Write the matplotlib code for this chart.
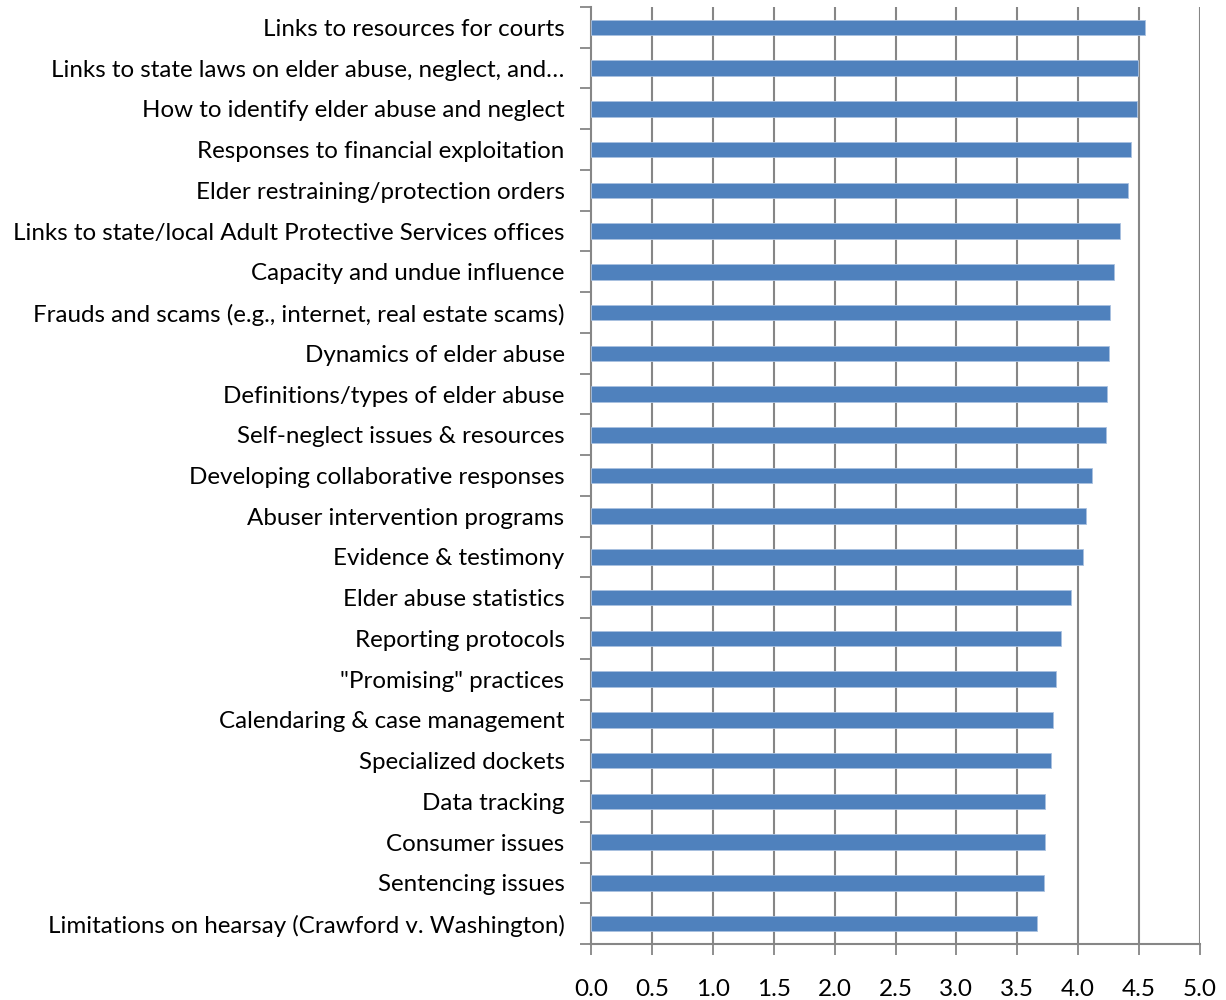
import numpy as np
import matplotlib.pyplot as plt

# topics, listed top to bottom
topics = [
    "Links to resources for courts",
    "Links to state laws on elder abuse, neglect, and\u2026",
    "How to identify elder abuse and neglect",
    "Responses to financial exploitation",
    "Elder restraining/protection orders",
    "Links to state/local Adult Protective Services offices",
    "Capacity and undue influence",
    "Frauds and scams (e.g., internet, real estate scams)",
    "Dynamics of elder abuse",
    "Definitions/types of elder abuse",
    "Self-neglect issues & resources",
    "Developing collaborative responses",
    "Abuser intervention programs",
    "Evidence & testimony",
    "Elder abuse statistics",
    "Reporting protocols",
    "\"Promising\" practices",
    "Calendaring & case management",
    "Specialized dockets",
    "Data tracking",
    "Consumer issues",
    "Sentencing issues",
    "Limitations on hearsay (Crawford v. Washington)",
]
ratings = [4.55, 4.49, 4.48, 4.43, 4.41, 4.34, 4.29, 4.26, 4.25, 4.24,
           4.23, 4.11, 4.06, 4.04, 3.94, 3.86, 3.82, 3.79, 3.78, 3.73,
           3.73, 3.72, 3.66]
xticks = np.arange(0, 5.01, 0.5)

GRID = "#868686"
BAR = "#4F81BD"

plt.rcParams['font.family'] = ['Lato', 'DejaVu Sans']

fig = plt.figure(figsize=(12.26, 10), dpi=100)
ax = fig.add_axes([591 / 1226, 56 / 1000, 609 / 1226, 937 / 1000])

n = len(topics)
ypos = np.arange(n)[::-1]
ax.barh(ypos, ratings, height=0.38, color=BAR, edgecolor="#a9c1e0",
        linewidth=0.6, zorder=3)

ax.set_xlim(0, 5)
ax.set_ylim(-0.5, n - 0.5)

# vertical gridlines at every half point
for v in xticks[1:]:
    ax.axvline(v, color=GRID, lw=1.5, zorder=1)

ax.set_xticks(xticks)
ax.set_xticklabels([f"{v:.1f}" for v in xticks], fontsize=17.5)
ax.tick_params(axis="x", direction="out", length=8, width=1.3,
               color=GRID, pad=17)

ax.set_yticks(ypos)
ax.set_yticklabels(topics, fontsize=17.4)
ax.set_yticks(np.arange(-0.5, n, 1.0), minor=True)
ax.tick_params(axis="y", which="major", length=0, pad=19)
ax.tick_params(axis="y", which="minor", direction="out", length=8,
               width=1.3, color=GRID)

for s in ["top", "right"]:
    ax.spines[s].set_visible(False)
for s in ["left", "bottom"]:
    ax.spines[s].set_color(GRID)
    ax.spines[s].set_linewidth(1.5)

fig.savefig("out.png", dpi=100, facecolor="white")
